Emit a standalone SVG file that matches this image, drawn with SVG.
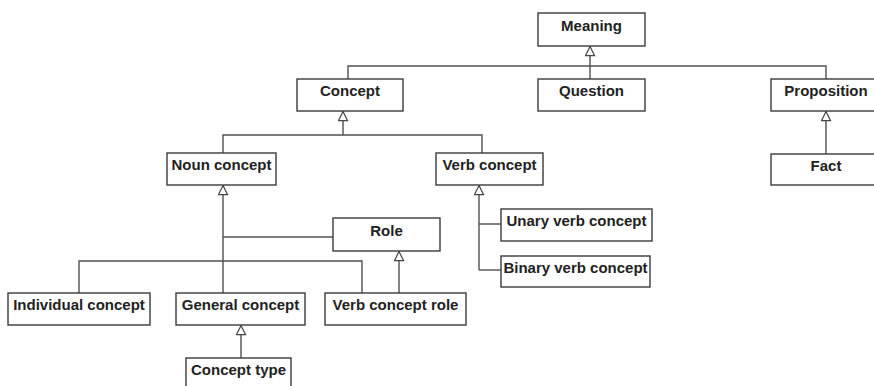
<svg xmlns="http://www.w3.org/2000/svg" width="874" height="386" viewBox="0 0 874 386">
  <style>
    .box rect { fill: #ffffff; stroke: #3a3a3a; stroke-width: 1.4; }
    .box text { font-family: "Liberation Sans", Arial, sans-serif; font-weight: bold; font-size: 15px; fill: #222222; text-anchor: middle; }
    .edge { fill: none; stroke: #505050; stroke-width: 1.4; }
  </style>
  <defs>
    <!-- hollow triangle: UML generalization -->
    <marker id="gen" viewBox="0 0 12 12" refX="11" refY="6" markerWidth="11" markerHeight="11" markerUnits="userSpaceOnUse" orient="auto">
      <path d="M1,1 L11,6 L1,11 Z" fill="#ffffff" stroke="#444444" stroke-width="1.3"/>
    </marker>
  </defs>
  <rect width="874" height="386" fill="#ffffff"/>

  <g id="connectors">
    <path class="edge" d="M348,79 V66 H826 V79"/>
    <path class="edge" d="M590,79 V46.5" marker-end="url(#gen)"/>
    <path class="edge" d="M826,154 V111.5" marker-end="url(#gen)"/>
    <path class="edge" d="M223,153 V135 H482 V153"/>
    <path class="edge" d="M343,135 V111.5" marker-end="url(#gen)"/>
    <path class="edge" d="M223,293 V185.5" marker-end="url(#gen)"/>
    <path class="edge" d="M223,237 H333"/>
    <path class="edge" d="M79,293 V261 H362 V293"/>
    <path class="edge" d="M399,293 V251.5" marker-end="url(#gen)"/>
    <path class="edge" d="M241,358 V325.5" marker-end="url(#gen)"/>
    <path class="edge" d="M479,270 V185.5" marker-end="url(#gen)"/>
    <path class="edge" d="M479,224 H501"/>
    <path class="edge" d="M479,270 H501"/>
  </g>

  <g id="meaning" class="box"><rect x="538" y="13" width="107" height="33"/><text x="591.5" y="31">Meaning</text></g>
  <g id="concept" class="box"><rect x="297" y="79" width="106" height="32"/><text x="350" y="96">Concept</text></g>
  <g id="question" class="box"><rect x="538" y="79" width="107" height="32"/><text x="591.5" y="96">Question</text></g>
  <g id="proposition" class="box"><rect x="771" y="79" width="110" height="32"/><text x="826" y="96">Proposition</text></g>
  <g id="fact" class="box"><rect x="771" y="154" width="110" height="31"/><text x="826" y="171">Fact</text></g>
  <g id="noun-concept" class="box"><rect x="167" y="153" width="109" height="32"/><text x="221.5" y="170">Noun concept</text></g>
  <g id="verb-concept" class="box"><rect x="436" y="153" width="107" height="32"/><text x="489.5" y="170">Verb concept</text></g>
  <g id="role" class="box"><rect x="333" y="218" width="107" height="33"/><text x="386.5" y="236">Role</text></g>
  <g id="unary-verb-concept" class="box"><rect x="501" y="209" width="151" height="32"/><text x="576.5" y="226">Unary verb concept</text></g>
  <g id="binary-verb-concept" class="box"><rect x="501" y="256" width="149" height="31"/><text x="575.5" y="273">Binary verb concept</text></g>
  <g id="individual-concept" class="box"><rect x="8" y="293" width="142" height="32"/><text x="79" y="310">Individual concept</text></g>
  <g id="general-concept" class="box"><rect x="176" y="293" width="129" height="32"/><text x="240.5" y="310">General concept</text></g>
  <g id="verb-concept-role" class="box"><rect x="325" y="293" width="141" height="32"/><text x="395.5" y="310">Verb concept role</text></g>
  <g id="concept-type" class="box"><rect x="186" y="358" width="105" height="32"/><text x="238.5" y="375">Concept type</text></g>
</svg>
